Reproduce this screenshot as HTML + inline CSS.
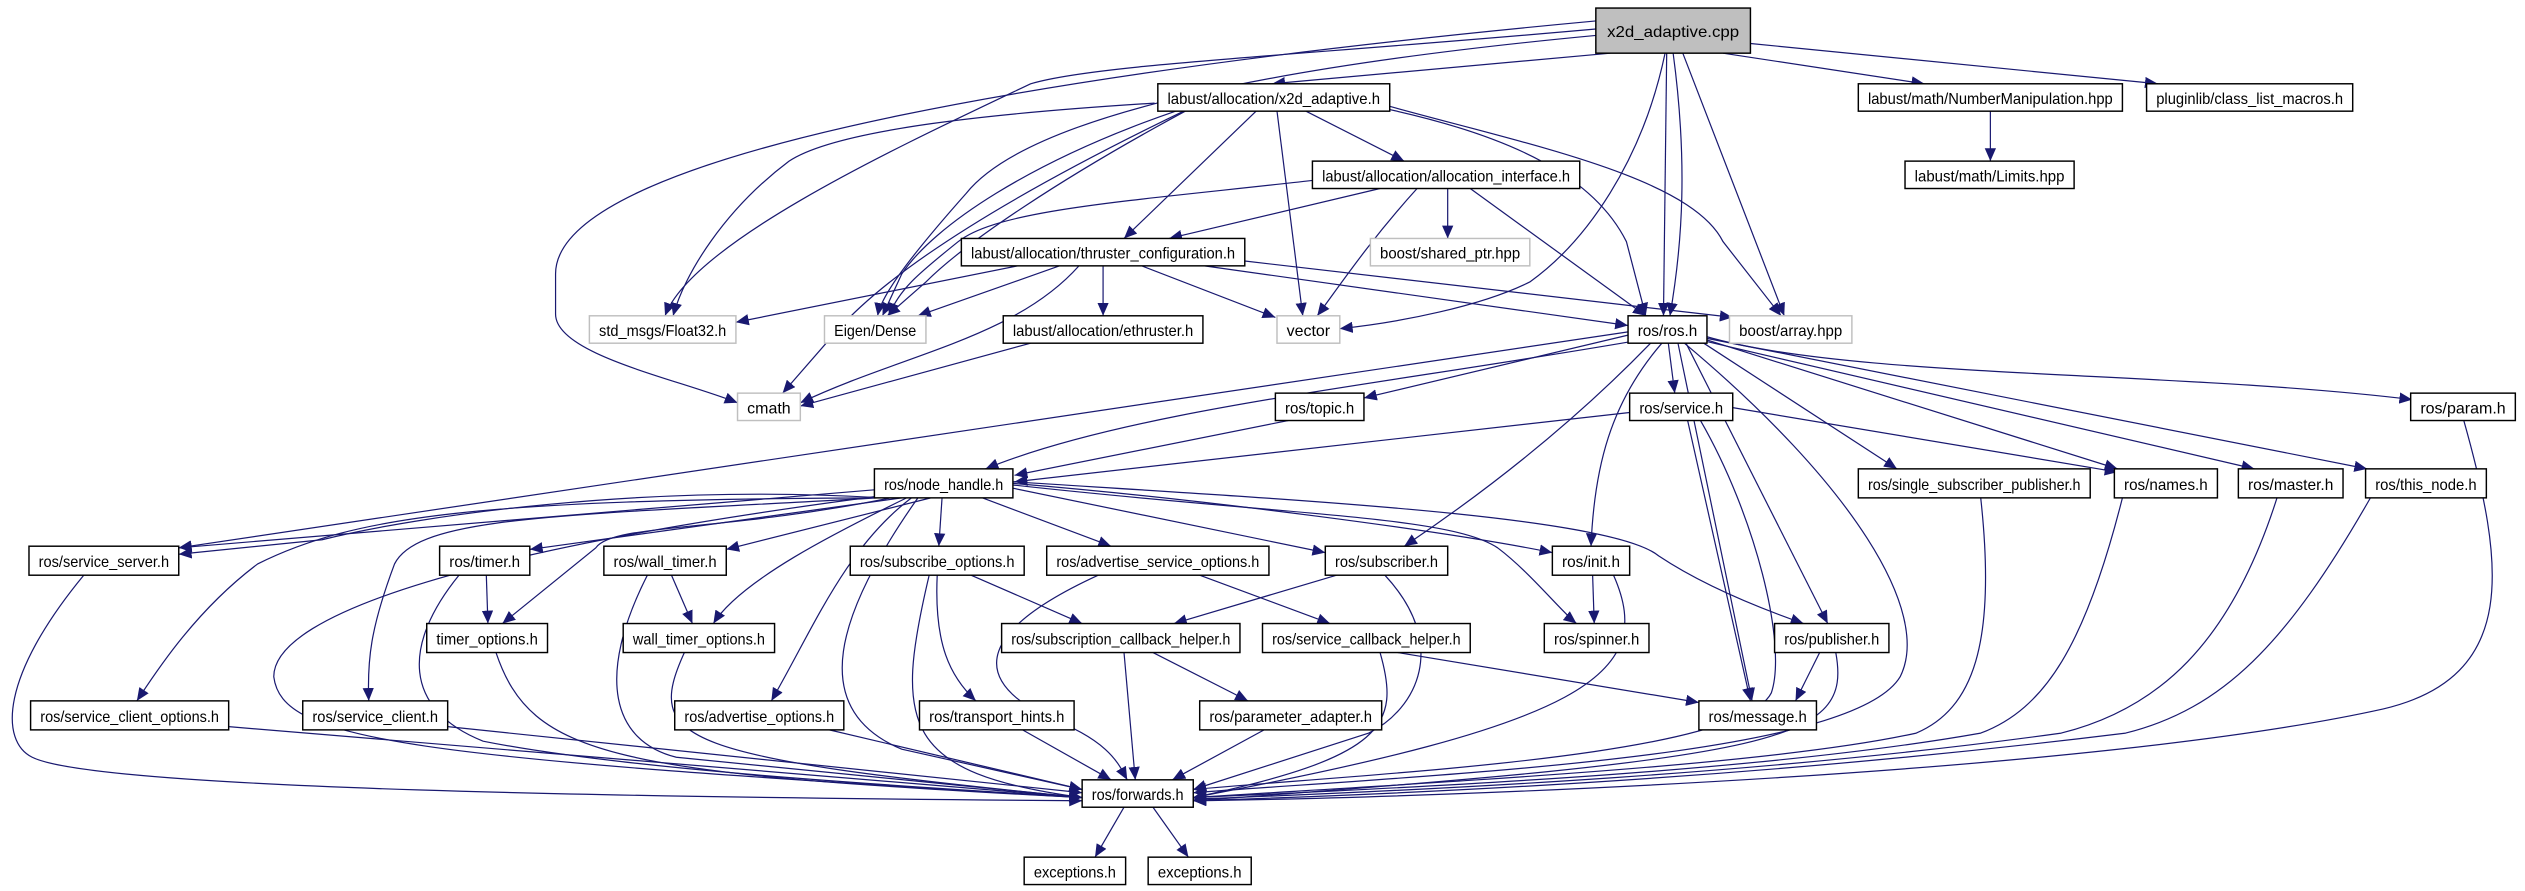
<!DOCTYPE html>
<html><head><meta charset="utf-8"><style>
html,body{margin:0;padding:0;background:#fff;}
svg{display:block;}
text{font-family:"Liberation Sans","DejaVu Sans",sans-serif;font-size:10px;fill:#000;}
.e{fill:none;stroke:#191970;stroke-width:0.75;marker-end:url(#a);}
.n{fill:#fff;stroke:#000;stroke-width:0.9;}
.g{fill:#fff;stroke:#bfbfbf;stroke-width:0.9;}
</style></head><body>
<svg width="2525" height="891" viewBox="0 0 1568 553" preserveAspectRatio="none" xmlns="http://www.w3.org/2000/svg">
<defs><marker id="a" markerUnits="userSpaceOnUse" markerWidth="9" markerHeight="7" refX="8" refY="3.5" orient="auto"><path d="M0,0 L8,3.5 L0,7 z" fill="#191970"/></marker></defs>
<g>
<path class="e" d="M1000,33 L790,52"/>
<path class="e" d="M1070,33 L1195,52"/>
<path class="e" d="M1087,27 L1340,52"/>
<path class="e" d="M991,13 C700,40 345,90 345,170 L345,195 C345,220 420,235 458,250"/>
<path class="e" d="M991,18 C800,35 680,40 640,52 C560,90 430,150 413,196"/>
<path class="e" d="M717,64 C620,70 520,80 490,100 C450,130 425,170 418,196"/>
<path class="e" d="M991,22 C800,40 640,70 600,120 C560,165 547,185 545,196"/>
<path class="e" d="M730,69 C640,100 580,140 560,170 L548,196"/>
<path class="e" d="M736,69 C660,110 600,150 575,175 L551,196"/>
<path class="e" d="M1034,33 C1020,100 985,150 950,175 C920,190 870,200 832,204"/>
<path class="e" d="M1039,33 C1048,100 1045,150 1037,196"/>
<path class="e" d="M1035,33 L1033,196"/>
<path class="e" d="M1045,33 L1108,196"/>
<path class="e" d="M811,69 L872,100"/>
<path class="e" d="M780,69 L698,148"/>
<path class="e" d="M793,69 L809,196"/>
<path class="e" d="M735,69 C650,110 560,160 520,205 L486,244"/>
<path class="e" d="M863,68 C940,85 990,110 1010,150 L1022,196"/>
<path class="e" d="M863,66 C950,90 1050,110 1070,150 L1106,196"/>
<path class="e" d="M1236,69 L1236,100"/>
<path class="e" d="M857,117 L726,148"/>
<path class="e" d="M815,112 C700,125 620,130 595,150 C570,170 558,180 552,196"/>
<path class="e" d="M899,117 L899,148"/>
<path class="e" d="M880,117 C850,150 830,180 818,196"/>
<path class="e" d="M913,117 L1022,196"/>
<path class="e" d="M632,165 L457,200"/>
<path class="e" d="M658,165 L570,196"/>
<path class="e" d="M670,165 C630,210 560,220 497,250"/>
<path class="e" d="M685,165 L685,196"/>
<path class="e" d="M709,165 L792,197"/>
<path class="e" d="M748,165 L1011,202"/>
<path class="e" d="M773,162 L1076,197"/>
<path class="e" d="M640,213 L497,252"/>
<path class="e" d="M1013,212 C850,240 700,255 612,291"/>
<path class="e" d="M800,261 L630,295"/>
<path class="e" d="M1012,256 L630,299"/>
<path class="e" d="M1011,206 L111,340"/>
<path class="e" d="M1011,208 L847,247"/>
<path class="e" d="M1036,213 L1040,244"/>
<path class="e" d="M1025,213 Q960,280 872,339"/>
<path class="e" d="M1032,213 C1000,250 990,290 988,339"/>
<path class="e" d="M1042,213 L1088,435"/>
<path class="e" d="M1047,213 L1135,387"/>
<path class="e" d="M1046,213 C1150,300 1200,380 1180,420 C1150,470 900,480 741,492"/>
<path class="e" d="M1058,213 L1178,291"/>
<path class="e" d="M1060,211 L1315,291"/>
<path class="e" d="M1076,253 L1315,293"/>
<path class="e" d="M1060,212 L1400,291"/>
<path class="e" d="M1060,210 L1470,291"/>
<path class="e" d="M1060,209 C1150,235 1350,230 1498,248"/>
<path class="e" d="M1048,261 L1087,435"/>
<path class="e" d="M1056,261 C1090,320 1110,400 1100,430 C1080,470 850,480 741,490"/>
<path class="e" d="M1530,261 C1555,350 1565,420 1480,440 C1300,480 900,495 741,497"/>
<path class="e" d="M1230,309 C1240,400 1225,440 1190,455 C1100,475 900,485 741,495"/>
<path class="e" d="M1318,309 C1295,400 1270,440 1230,455 C1100,478 900,488 741,495"/>
<path class="e" d="M1414,309 C1385,400 1340,440 1280,455 C1100,480 900,490 741,496"/>
<path class="e" d="M1472,309 C1420,400 1380,440 1320,455 C1100,482 900,492 741,497"/>
<path class="e" d="M543,304 L111,340"/>
<path class="e" d="M548,309 C400,300 260,320 200,335 L111,344"/>
<path class="e" d="M543,309 C300,310 220,320 160,350 C120,380 95,420 85,435"/>
<path class="e" d="M545,309 C350,320 260,320 245,350 C230,390 228,410 229,435"/>
<path class="e" d="M545,308 C300,340 170,380 170,420 C175,460 250,470 672,495"/>
<path class="e" d="M560,309 L329,341"/>
<path class="e" d="M553,309 C450,330 380,325 370,340 L312,387"/>
<path class="e" d="M578,309 L451,341"/>
<path class="e" d="M563,309 C520,330 460,360 443,387"/>
<path class="e" d="M566,309 C525,340 505,390 479,435"/>
<path class="e" d="M585,309 L583,339"/>
<path class="e" d="M610,309 L690,339"/>
<path class="e" d="M629,303 L823,343"/>
<path class="e" d="M629,300 C750,310 900,330 964,343"/>
<path class="e" d="M629,301 C800,320 900,320 930,340 C950,355 970,380 979,387"/>
<path class="e" d="M629,299 C800,310 1000,320 1030,345 C1060,365 1100,380 1120,387"/>
<path class="e" d="M570,309 C520,380 500,440 560,465 L672,490"/>
<path class="e" d="M52,357 C0,420 0,460 20,470 C60,490 400,495 672,497"/>
<path class="e" d="M302,357 L303,387"/>
<path class="e" d="M285,357 C250,400 250,440 300,460 C400,480 600,490 672,495"/>
<path class="e" d="M417,357 L430,387"/>
<path class="e" d="M402,357 C370,420 380,460 420,470 L672,495"/>
<path class="e" d="M308,405 C330,470 380,480 672,495"/>
<path class="e" d="M425,405 C400,460 420,470 672,495"/>
<path class="e" d="M577,357 C555,450 560,480 672,495"/>
<path class="e" d="M582,357 C580,400 590,420 606,435"/>
<path class="e" d="M603,357 L672,387"/>
<path class="e" d="M830,357 L729,387"/>
<path class="e" d="M745,357 L826,387"/>
<path class="e" d="M682,357 C610,390 600,420 650,445 C690,460 695,475 700,484"/>
<path class="e" d="M698,405 L705,484"/>
<path class="e" d="M716,405 L775,435"/>
<path class="e" d="M860,357 C900,400 880,440 850,455 L741,490"/>
<path class="e" d="M868,405 L1055,436"/>
<path class="e" d="M857,405 C870,450 860,470 741,495"/>
<path class="e" d="M785,453 L728,484"/>
<path class="e" d="M989,357 L990,387"/>
<path class="e" d="M1002,357 C1030,420 980,450 741,495"/>
<path class="e" d="M1130,405 L1115,435"/>
<path class="e" d="M1140,405 C1150,460 1110,470 741,497"/>
<path class="e" d="M142,451 L672,495"/>
<path class="e" d="M278,451 L672,492"/>
<path class="e" d="M515,453 L672,490"/>
<path class="e" d="M635,453 L690,484"/>
<path class="e" d="M698,501 L680,532"/>
<path class="e" d="M716,501 L738,532"/>
</g>
<rect x="991" y="5" width="96" height="28" fill="#bfbfbf" stroke="#000" stroke-width="0.9"/>
<text x="1039" y="23" text-anchor="middle" textLength="82" lengthAdjust="spacingAndGlyphs">x2d_adaptive.cpp</text>
<rect class="n" x="719" y="52" width="144" height="17"/><text x="791" y="64.5" text-anchor="middle" textLength="132" lengthAdjust="spacingAndGlyphs">labust/allocation/x2d_adaptive.h</text>
<rect class="n" x="1154" y="52" width="164" height="17"/><text x="1236" y="64.5" text-anchor="middle" textLength="152" lengthAdjust="spacingAndGlyphs">labust/math/NumberManipulation.hpp</text>
<rect class="n" x="1333" y="52" width="128" height="17"/><text x="1397" y="64.5" text-anchor="middle" textLength="116" lengthAdjust="spacingAndGlyphs">pluginlib/class_list_macros.h</text>
<rect class="n" x="815" y="100" width="166" height="17"/><text x="898" y="112.5" text-anchor="middle" textLength="154" lengthAdjust="spacingAndGlyphs">labust/allocation/allocation_interface.h</text>
<rect class="n" x="1183" y="100" width="105" height="17"/><text x="1235.5" y="112.5" text-anchor="middle" textLength="93" lengthAdjust="spacingAndGlyphs">labust/math/Limits.hpp</text>
<rect class="n" x="597" y="148" width="176" height="17"/><text x="685" y="160.5" text-anchor="middle" textLength="164" lengthAdjust="spacingAndGlyphs">labust/allocation/thruster_configuration.h</text>
<rect class="g" x="851" y="148" width="99" height="17"/><text x="900.5" y="160.5" text-anchor="middle" textLength="87" lengthAdjust="spacingAndGlyphs">boost/shared_ptr.hpp</text>
<rect class="g" x="366" y="196" width="91" height="17"/><text x="411.5" y="208.5" text-anchor="middle" textLength="79" lengthAdjust="spacingAndGlyphs">std_msgs/Float32.h</text>
<rect class="g" x="512" y="196" width="63" height="17"/><text x="543.5" y="208.5" text-anchor="middle" textLength="51" lengthAdjust="spacingAndGlyphs">Eigen/Dense</text>
<rect class="n" x="623" y="196" width="124" height="17"/><text x="685" y="208.5" text-anchor="middle" textLength="112" lengthAdjust="spacingAndGlyphs">labust/allocation/ethruster.h</text>
<rect class="g" x="793" y="196" width="39" height="17"/><text x="812.5" y="208.5" text-anchor="middle" textLength="27" lengthAdjust="spacingAndGlyphs">vector</text>
<rect class="n" x="1011" y="196" width="49" height="17"/><text x="1035.5" y="208.5" text-anchor="middle" textLength="37" lengthAdjust="spacingAndGlyphs">ros/ros.h</text>
<rect class="g" x="1074" y="196" width="76" height="17"/><text x="1112" y="208.5" text-anchor="middle" textLength="64" lengthAdjust="spacingAndGlyphs">boost/array.hpp</text>
<rect class="g" x="458" y="244" width="39" height="17"/><text x="477.5" y="256.5" text-anchor="middle" textLength="27" lengthAdjust="spacingAndGlyphs">cmath</text>
<rect class="n" x="792" y="244" width="55" height="17"/><text x="819.5" y="256.5" text-anchor="middle" textLength="43" lengthAdjust="spacingAndGlyphs">ros/topic.h</text>
<rect class="n" x="1012" y="244" width="64" height="17"/><text x="1044" y="256.5" text-anchor="middle" textLength="52" lengthAdjust="spacingAndGlyphs">ros/service.h</text>
<rect class="n" x="1497" y="244" width="65" height="17"/><text x="1529.5" y="256.5" text-anchor="middle" textLength="53" lengthAdjust="spacingAndGlyphs">ros/param.h</text>
<rect class="n" x="543" y="291" width="86" height="18"/><text x="586" y="304" text-anchor="middle" textLength="74" lengthAdjust="spacingAndGlyphs">ros/node_handle.h</text>
<rect class="n" x="1154" y="291" width="144" height="18"/><text x="1226" y="304" text-anchor="middle" textLength="132" lengthAdjust="spacingAndGlyphs">ros/single_subscriber_publisher.h</text>
<rect class="n" x="1313" y="291" width="64" height="18"/><text x="1345" y="304" text-anchor="middle" textLength="52" lengthAdjust="spacingAndGlyphs">ros/names.h</text>
<rect class="n" x="1390" y="291" width="65" height="18"/><text x="1422.5" y="304" text-anchor="middle" textLength="53" lengthAdjust="spacingAndGlyphs">ros/master.h</text>
<rect class="n" x="1469" y="291" width="75" height="18"/><text x="1506.5" y="304" text-anchor="middle" textLength="63" lengthAdjust="spacingAndGlyphs">ros/this_node.h</text>
<rect class="n" x="18" y="339" width="93" height="18"/><text x="64.5" y="352" text-anchor="middle" textLength="81" lengthAdjust="spacingAndGlyphs">ros/service_server.h</text>
<rect class="n" x="273" y="339" width="56" height="18"/><text x="301" y="352" text-anchor="middle" textLength="44" lengthAdjust="spacingAndGlyphs">ros/timer.h</text>
<rect class="n" x="375" y="339" width="76" height="18"/><text x="413" y="352" text-anchor="middle" textLength="64" lengthAdjust="spacingAndGlyphs">ros/wall_timer.h</text>
<rect class="n" x="528" y="339" width="108" height="18"/><text x="582" y="352" text-anchor="middle" textLength="96" lengthAdjust="spacingAndGlyphs">ros/subscribe_options.h</text>
<rect class="n" x="650" y="339" width="138" height="18"/><text x="719" y="352" text-anchor="middle" textLength="126" lengthAdjust="spacingAndGlyphs">ros/advertise_service_options.h</text>
<rect class="n" x="823" y="339" width="76" height="18"/><text x="861" y="352" text-anchor="middle" textLength="64" lengthAdjust="spacingAndGlyphs">ros/subscriber.h</text>
<rect class="n" x="964" y="339" width="48" height="18"/><text x="988" y="352" text-anchor="middle" textLength="36" lengthAdjust="spacingAndGlyphs">ros/init.h</text>
<rect class="n" x="265" y="387" width="75" height="18"/><text x="302.5" y="400" text-anchor="middle" textLength="63" lengthAdjust="spacingAndGlyphs">timer_options.h</text>
<rect class="n" x="387" y="387" width="94" height="18"/><text x="434" y="400" text-anchor="middle" textLength="82" lengthAdjust="spacingAndGlyphs">wall_timer_options.h</text>
<rect class="n" x="622" y="387" width="148" height="18"/><text x="696" y="400" text-anchor="middle" textLength="136" lengthAdjust="spacingAndGlyphs">ros/subscription_callback_helper.h</text>
<rect class="n" x="784" y="387" width="129" height="18"/><text x="848.5" y="400" text-anchor="middle" textLength="117" lengthAdjust="spacingAndGlyphs">ros/service_callback_helper.h</text>
<rect class="n" x="959" y="387" width="65" height="18"/><text x="991.5" y="400" text-anchor="middle" textLength="53" lengthAdjust="spacingAndGlyphs">ros/spinner.h</text>
<rect class="n" x="1102" y="387" width="71" height="18"/><text x="1137.5" y="400" text-anchor="middle" textLength="59" lengthAdjust="spacingAndGlyphs">ros/publisher.h</text>
<rect class="n" x="19" y="435" width="123" height="18"/><text x="80.5" y="448" text-anchor="middle" textLength="111" lengthAdjust="spacingAndGlyphs">ros/service_client_options.h</text>
<rect class="n" x="188" y="435" width="90" height="18"/><text x="233" y="448" text-anchor="middle" textLength="78" lengthAdjust="spacingAndGlyphs">ros/service_client.h</text>
<rect class="n" x="419" y="435" width="105" height="18"/><text x="471.5" y="448" text-anchor="middle" textLength="93" lengthAdjust="spacingAndGlyphs">ros/advertise_options.h</text>
<rect class="n" x="571" y="435" width="96" height="18"/><text x="619" y="448" text-anchor="middle" textLength="84" lengthAdjust="spacingAndGlyphs">ros/transport_hints.h</text>
<rect class="n" x="745" y="435" width="113" height="18"/><text x="801.5" y="448" text-anchor="middle" textLength="101" lengthAdjust="spacingAndGlyphs">ros/parameter_adapter.h</text>
<rect class="n" x="1055" y="435" width="73" height="18"/><text x="1091.5" y="448" text-anchor="middle" textLength="61" lengthAdjust="spacingAndGlyphs">ros/message.h</text>
<rect class="n" x="672" y="484" width="69" height="17"/><text x="706.5" y="496.5" text-anchor="middle" textLength="57" lengthAdjust="spacingAndGlyphs">ros/forwards.h</text>
<rect class="n" x="636" y="532" width="63" height="17"/><text x="667.5" y="544.5" text-anchor="middle" textLength="51" lengthAdjust="spacingAndGlyphs">exceptions.h</text>
<rect class="n" x="713" y="532" width="64" height="17"/><text x="745" y="544.5" text-anchor="middle" textLength="52" lengthAdjust="spacingAndGlyphs">exceptions.h</text>
</svg>
</body></html>
